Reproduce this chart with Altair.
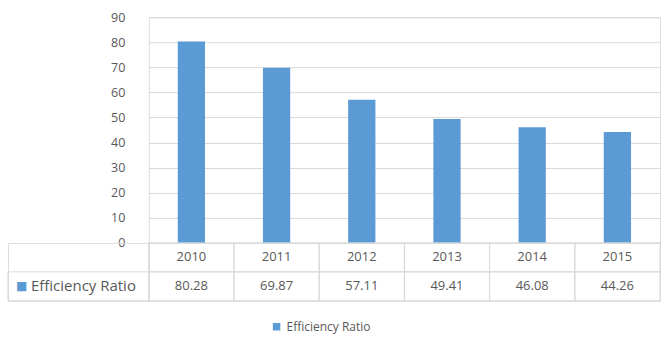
import altair as alt
import pandas as pd

years = ["2010", "2011", "2012", "2013", "2014", "2015"]
values = [80.28, 69.87, 57.11, 49.41, 46.08, 44.26]
series_name = "Efficiency Ratio"
y_ticks = [0, 10, 20, 30, 40, 50, 60, 70, 80, 90]
rows = ["year", "value"]

FONT = "Open Sans"
GRAY = "#595959"
BLUE = "#5b9bd5"
LINE = "#d9d9d9"

df = pd.DataFrame({"year": years, "value": values, "series": [series_name] * len(years)})

bars = alt.Chart(df).mark_bar().encode(
    x=alt.X("year:N", sort=years, axis=None,
            scale=alt.Scale(paddingInner=0.68, paddingOuter=0.34)),
    y=alt.Y("value:Q", scale=alt.Scale(domain=[0, 90], nice=False),
            axis=alt.Axis(values=y_ticks, grid=True, gridColor=LINE, domain=False,
                          ticks=False, labelPadding=24,
                          labelColor=GRAY, labelFontSize=12.5, labelFont=FONT, title=None)),
    color=alt.Color("series:N", scale=alt.Scale(range=[BLUE]),
                    legend=alt.Legend(orient="none", legendX=263, legendY=304, title=None,
                                      symbolType="square", symbolSize=56, symbolStrokeWidth=0,
                                      labelFont=FONT, labelFontSize=12, labelColor=GRAY,
                                      labelOffset=4, direction="horizontal")),
).properties(width=512, height=226)

spacer = alt.Chart(df).mark_point(opacity=0).properties(width=141, height=226)

table_df = pd.DataFrame({
    "year": years * 2,
    "row": ["year"] * len(years) + ["value"] * len(years),
    "text": years + [f"{v:.2f}" for v in values],
})

tx = alt.X("year:N", sort=years, axis=None, scale=alt.Scale(paddingInner=0, paddingOuter=0))
ty = alt.Y("row:N", sort=rows, axis=None,
           scale=alt.Scale(domain=rows, paddingInner=0, paddingOuter=0))

cells = alt.Chart(table_df).mark_rect(fill=None, stroke=LINE, strokeWidth=1).encode(x=tx, y=ty)
cell_text = alt.Chart(table_df).mark_text(font=FONT, fontSize=13, color=GRAY).encode(
    x=tx, y=ty, text="text:N")
table = alt.layer(cells, cell_text).properties(width=512, height=58)

label_df = pd.DataFrame({"series": [series_name], "row": ["value"]})
lscale = alt.Scale(paddingInner=0, paddingOuter=0)
label_cell = alt.Chart(label_df).mark_rect(fill=None, stroke=LINE, strokeWidth=1).encode(
    x=alt.X("series:N", axis=None, scale=lscale), y=ty)
label_sq = alt.Chart(label_df).mark_text(text="■", color=BLUE, fontSize=12, align="left",
                                         dx=8, font="DejaVu Sans").encode(
    x=alt.X("series:N", axis=None, bandPosition=0, scale=lscale), y=ty)
label_txt = alt.Chart(label_df).mark_text(font=FONT, fontSize=15, color=GRAY, align="left",
                                          dx=23).encode(
    x=alt.X("series:N", axis=None, bandPosition=0, scale=lscale),
    y=ty, text="series:N")
label = alt.layer(label_cell, label_sq, label_txt).properties(width=141, height=58)

chart = alt.concat(spacer, bars, label, table, columns=2, spacing=0, bounds="flush").properties(
    padding={"left": 7, "top": 10, "right": 0, "bottom": 3}
).configure_view(stroke=None).configure(background="white")

chart.save("out.html", embed_options={"renderer": "svg", "actions": False})
